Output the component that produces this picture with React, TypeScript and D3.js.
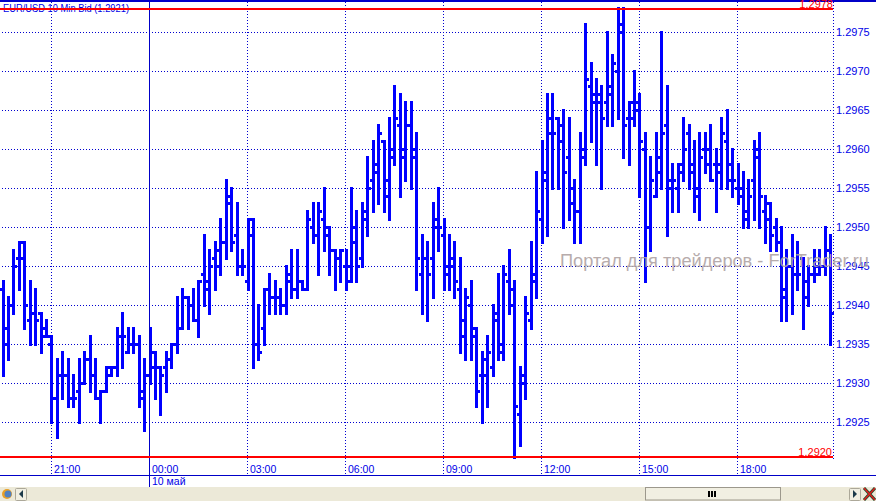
import React from "react";
import * as d3 from "d3";

// Quotes in pips above 1.2900, one 10-minute bar per entry
const opens = [42,35,40,46,48,38,39,39,36,35,28,31,31,28,29,30,33,31,28,29,31,32,36,34,35,35,28,31,34,32,32,33,35,37,41,40,38,44,43,46,47,48,54,49,45,43,51,35,37,42,41,41,40,43,42,43,42,50,49,51,49,47,46,45,45,50,46,51,56,57,61,54,59,63,59,63,59,44,46,46,50,49,44,46,42,36,40,37,31,31,32,38,34,43,40,26,30,38,43,51,57,62,64,63,59,53,52,59,68,66,66,66,67,70,75,64,64,66,60,50,54,57,63,55,55,58,62,57,55,60,60,58,57,61,56,55,54,51,56,59,52,53,50,48,41,45,44,46,43,44,45,45,47];
const highs = [43,41,47,48,48,43,42,39,38,36,33,34,33,31,33,34,36,33,29,32,32,37,39,37,37,36,33,37,34,32,34,35,41,42,41,42,43,49,47,48,51,56,55,53,47,51,51,40,42,44,43,42,45,47,47,43,52,53,53,55,50,47,47,47,55,52,53,59,61,63,61,64,68,67,66,66,62,49,48,53,55,51,49,48,46,42,43,37,34,36,40,44,45,47,43,32,41,48,57,61,67,67,64,65,64,56,62,76,71,69,68,75,72,78,78,66,70,67,62,59,62,75,68,58,58,64,63,61,62,62,63,60,64,65,60,58,57,56,61,62,54,53,51,50,47,49,48,46,45,47,47,50,49];
const lows = [31,33,39,42,37,35,35,34,36,25,23,28,27,27,25,30,29,28,25,29,31,31,32,34,34,27,24,30,28,26,29,32,34,37,37,38,36,40,39,42,44,46,47,44,44,42,32,33,35,39,39,39,39,41,41,42,42,48,44,47,44,42,43,42,43,43,45,49,52,53,52,51,58,54,56,55,42,39,38,41,47,42,42,41,34,33,33,27,25,27,31,33,33,39,20.5,22,28,37,41,48,49,55,55,50,51,48,48,58,61,58,55,63,63,64,59,58,63,54,43,47,54,55,49,52,52,56,55,52,51,57,56,52,55,55,54,53,50,50,51,50,48,47,47,38,38,39,42,37,40,43,44,44,35];
const closes = [37,40,45,46,40,39,38,37,36,28,31,31,28,28,30,33,31,28,29,32,32,36,36,35,35,29,31,32,32,31,33,35,37,41,40,38,43,42,45,45,48,53,48,45,45,49,35,34,42,41,41,40,44,42,43,42,51,49,52,50,47,46,47,43,48,45,52,55,58,62,56,60,64,60,63,60,46,46,44,51,50,45,45,43,38,41,36,29,33,34,39,35,44,42,27,31,39,44,52,56,64,62,61,57,55,52,60,69,67,67,64,68,71,76,63,66,65,61,50,56,59,62,56,56,57,60,58,54,59,58,56,58,62,58,56,55,52,54,60,54,51,49,48,42,45,44,44,41,44,44,45,47,39];

const priceTicks = ["1.2975","1.2970","1.2965","1.2960","1.2955","1.2950","1.2945","1.2940","1.2935","1.2930","1.2925"];
const timeTicks = ["21:00","00:00","03:00","06:00","09:00","12:00","15:00","18:00"];
const BLUE = "#0000ff";
const GRID = "#0000d0";
const LABEL = "#0000e8";
const RED = "#ff0000";
const FONT = "'Liberation Sans', Arial, sans-serif";

const BAR_STEP_PER_3H = 18;
const y = d3.scaleLinear().domain([75, 25]).range([32.3, 422.3]);
const x = d3.scaleLinear().domain([0, 27]).range([2.5, 149.5]);
const toPips = (s: string) => (parseFloat(s) - 1.29) * 10000;
const px = (v: number) => Math.floor(v) + 0.5;
const gridTimes = timeTicks.map((_, k) => 9 + k * BAR_STEP_PER_3H);

export default function App() {
  const barsW = 3;
  const tick = 2;
  return (
    <svg width={876} height={501} style={{ position: "fixed", left: 0, top: 0, background: "#fff", display: "block" }} fontFamily={FONT}>
      <rect x={0} y={0} width={876} height={501} fill="#fff" />
      {/* grid */}
      <g stroke={GRID} strokeWidth={1} strokeDasharray="1 2" shapeRendering="crispEdges">
        {priceTicks.map((t) => (
          <line key={t} x1={2} x2={833} y1={px(y(toPips(t)))} y2={px(y(toPips(t)))} />
        ))}
        {gridTimes.map((i, k) =>
          k === 1 ? null : <line key={i} x1={px(x(i))} x2={px(x(i))} y1={2} y2={475} />
        )}
        <line x1={833.5} x2={833.5} y1={2} y2={460} />
      </g>
      {/* bars */}
      <g fill={BLUE} shapeRendering="crispEdges">
        {opens.map((o, i) => {
          const c = Math.round(x(i)) - 1;
          const top = Math.floor(y(highs[i])) - 1;
          const bot = Math.floor(y(lows[i])) + 2;
          return (
            <g key={i}>
              <rect x={c} y={top} width={barsW} height={bot - top} />
              <rect x={c - tick} y={Math.floor(y(o)) - 1} width={tick} height={3} />
              <rect x={c + barsW} y={Math.floor(y(closes[i])) - 1} width={tick} height={3} />
            </g>
          );
        })}
      </g>
      {/* session divider */}
      <line x1={149.5} x2={149.5} y1={2} y2={487} stroke="#0000c8" shapeRendering="crispEdges" />
      {/* top rule, high / low */}
      <rect x={0} y={0} width={876} height={2} fill="#0000c8" />
      <text x={3} y={12} fontSize={10.5} fill={LABEL} textLength={126} lengthAdjust="spacingAndGlyphs">EUR/USD 10 Min Bid (1.2921)</text>
      <rect x={0} y={8} width={833} height={2} fill={RED} />
      <rect x={0} y={456} width={833} height={2} fill={RED} />
      <text x={833} y={8} fontSize={11} fill={RED} textAnchor="end">1.2978</text>
      <text x={832} y={456} fontSize={11} fill={RED} textAnchor="end">1.2920</text>
      {/* price labels */}
      {priceTicks.map((t) => (
        <text key={t} x={836} y={y(toPips(t)) + 4} fontSize={11} fill={LABEL}>{t}</text>
      ))}
      {/* time axis */}
      {timeTicks.map((t, k) => (
        <text key={t} x={x(gridTimes[k]) + 2.5} y={473} fontSize={10.5} fill={LABEL}>{t}</text>
      ))}
      <line x1={0} x2={876} y1={475.5} y2={475.5} stroke="#0000c8" shapeRendering="crispEdges" />
      <text x={152} y={485} fontSize={10.5} fill={LABEL}>10 май</text>
      {/* watermark */}
      <text x={560} y={267} fontSize={18.2} fill="#b0a4a4" opacity={0.9}>Портал для трейдеров - ForTrader.ru</text>
      {/* status / scroll bar */}
      <rect x={0} y={487} width={876} height={14} fill="#ece9d8" />
      <circle cx={7} cy={494} r={5} fill="#e8a028" />
      <circle cx={8} cy={494} r={3.5} fill="#5080c0" />
      <rect x={15.5} y={488.5} width={11} height={12} rx={1} fill="#f1efe2" stroke="#aca899" />
      <path d={d3.line()([[23, 490], [23, 498], [19, 494]]) + "Z"} fill="#1c3a4a" />
      <rect x={645.5} y={487.5} width={135} height={12.5} fill="#f1efe2" stroke="#9c988c" />
      <rect x={708} y={491} width={2} height={6} fill="#000" />
      <rect x={711} y={491} width={2} height={6} fill="#000" />
      <rect x={714} y={491} width={2} height={6} fill="#000" />
      <rect x={849.5} y={488.5} width={11} height={12} rx={1} fill="#f1efe2" stroke="#aca899" />
      <path d={d3.line()([[853, 490], [853, 498], [857, 494]]) + "Z"} fill="#1c3a4a" />
      <path d="M864 488 L875 500 M875 488 L864 500" stroke="#1c5030" strokeWidth={3} />
      <path d="M864 488 L875 500 M875 488 L864 500" stroke="#e02020" strokeWidth={1.5} />
    </svg>
  );
}
